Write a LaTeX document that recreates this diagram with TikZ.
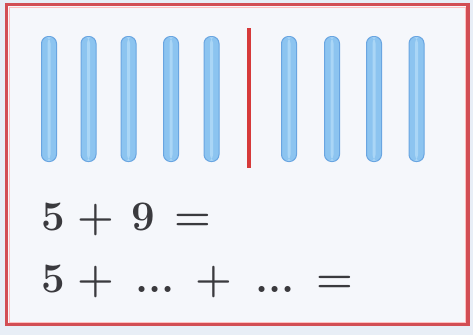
\documentclass[tikz,border=0pt]{standalone}
\begin{document}
\begin{tikzpicture}[x=1pt,y=-1pt,
  stick/.style={draw=stickedge, line width=1pt, fill=stickfill, rounded corners=7pt,
    minimum width=15pt, minimum height=125pt, inner sep=0pt, path picture={
      \fill[stickhi] ([xshift=-1.5pt]path picture bounding box.north) rectangle ([xshift=1.5pt]path picture bounding box.south);}},
  num/.style={anchor=base, inner sep=0pt, text=textgray, font=\fontsize{42}{42}\selectfont\bfseries}]
\definecolor{stickfill}{RGB}{140,196,240}
\definecolor{stickedge}{RGB}{105,165,225}
\definecolor{stickhi}{RGB}{170,214,246}
\definecolor{framered}{RGB}{210,78,84}
\definecolor{divred}{RGB}{214,58,58}
\definecolor{textgray}{RGB}{58,58,62}
\definecolor{outbg}{RGB}{232,238,246}
\definecolor{inbg}{RGB}{245,247,251}
\useasboundingbox (0,0) rectangle (473,335);
\fill[outbg] (0,0) rectangle (473,335);
\fill[inbg] (6.5,4.5) rectangle (468,324.5);
\draw[framered, line width=3.5pt] (6.5,4.5) rectangle (468,324.5);
\draw[red!25, line width=0.8pt] (9,7) rectangle (465.5,322);
% sticks
\node[stick] (s1) at (49,99) {};
\node[stick] (s2) at (88.5,99) {};
\node[stick] (s3) at (128.5,99) {};
\node[stick] (s4) at (171,99) {};
\node[stick] (s5) at (211.5,99) {};
\node[stick] (s6) at (289,99) {};
\node[stick] (s7) at (332,99) {};
\node[stick] (s8) at (374,99) {};
\node[stick] (s9) at (416.5,99) {};
% divider
\coordinate (dtop) at (249,28);
\coordinate (dbot) at (249,168);
\draw[divred, line width=3.5pt] (dtop) -- (dbot);
% line 1
\node[num] (a1) at (53,230) {5};
\node[num] (a2) at (96,230) {+};
\node[num] (a3) at (143.5,230) {9};
\node[num] (a4) at (192.5,230) {=};
% line 2
\node[num] (b1) at (53,292) {5};
\node[num] (b2) at (96,292) {+};
\node[num] (b3) at (155,292) {...};
\node[num] (b4) at (214,292) {+};
\node[num] (b5) at (275,292) {...};
\node[num] (b6) at (335,292) {=};
\end{tikzpicture}
\end{document}
